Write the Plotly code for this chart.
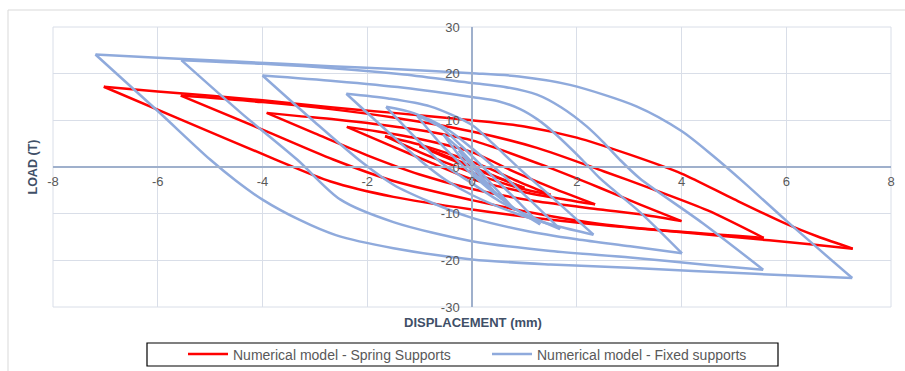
import plotly.graph_objects as go

# ---------------- data ----------------
# Each hysteresis branch is separated by None.
spring_disp = [
    7.27, 6.6, 6.0, 5.0, 4.0, 3.0, 2.0, 1.0, 0, -1.5, -2.7, -4.0, -6.0, -7.03, None,
    -7.03, -5.5, -3.75, -2.7, -1.5, 0, 1.5, 3.02, 5.0, 6.5, 7.27, None,
    5.57, 4.5, 3.46, 2.51, 1.24, 0, -1.5, -2.7, -4.0, -5.56, None,
    -5.56, -4.0, -2.65, -1.5, 0, 1.2, 2.45, 4.0, 5.57, None,
    4.0, 3.2, 2.45, 1.3, 0, -1.3, -2.6, -3.3, -3.92, None,
    -3.92, -3.0, -2.0, -1.0, 0, 1.2, 2.45, 3.3, 4.0, None,
    2.35, 1.6, 0.8, 0, -1.0, -1.8, -2.39, None,
    -2.39, -1.6, -0.8, 0, 1.0, 1.8, 2.35, None,
    1.5, 0.9, 0.3, -0.3, -1.0, -1.66, None,
    -1.66, -1.0, -0.4, 0.2, 0.9, 1.5, None,
    1.0, 0.4, -0.3, -1.0, None,
    -1.0, -0.4, 0.3, 1.0,
]
spring_load = [
    -17.5, -14.9, -12.2, -6.9, -1.4, 2.7, 6.3, 8.7, 10.0, 11.6, 12.8, 14.3, 16.2, 17.2, None,
    17.2, 9.9, 1.6, -3.1, -6.4, -9.1, -11.3, -13.0, -15.0, -16.6, -17.5, None,
    -15.2, -9.3, -4.8, -0.9, 4.1, 7.6, 10.6, 12.4, 13.9, 15.3, None,
    15.3, 8.0, 1.6, -3.0, -7.1, -9.9, -12.2, -13.9, -15.2, None,
    -11.6, -8.0, -4.5, 0.6, 5.7, 8.4, 10.2, 10.9, 11.6, None,
    11.6, 7.2, 2.5, -1.6, -4.7, -7.3, -9.1, -10.3, -11.6, None,
    -8.0, -4.8, -1.0, 3.2, 6.0, 7.6, 8.6, None,
    8.6, 4.8, 1.0, -2.6, -5.4, -7.0, -8.0, None,
    -6.0, -3.2, -0.2, 2.3, 4.8, 6.6, None,
    6.6, 3.2, 0.5, -2.0, -4.5, -6.0, None,
    -4.5, -1.8, 1.5, 4.5, None,
    4.5, 1.6, -1.5, -4.5,
]

fixed_disp = [
    7.26, 6.0, 5.2, 4.6, 4.0, 3.14, 1.87, 0.9, 0, -1.5, -2.7, -4.5, -6.0, -7.19, None,
    -7.19, -6.0, -5.0, -4.5, -4.0, -3.3, -2.6, -1.5, 0, 1.5, 3.0, 5.4, 7.26, None,
    5.56, 4.4, 3.2, 2.82, 2.5, 2.19, 1.7, 1.24, 0.6, 0, -1.3, -2.6, -4.0, -5.55, None,
    -5.55, -4.4, -3.34, -2.51, -1.5, 0, 1.5, 3.02, 4.5, 5.56, None,
    4.01, 3.2, 2.45, 2.1, 1.55, 1.25, 0.92, 0.5, 0, -1.3, -2.6, -4.0, None,
    -4.0, -3.0, -2.1, -1.5, -0.8, 0, 1.0, 2.0, 3.02, 4.01, None,
    2.32, 1.6, 0.92, 0.4, 0, -0.8, -1.6, -2.40, None,
    -2.40, -1.6, -1.0, -0.5, 0, 0.8, 1.6, 2.32, None,
    1.68, 1.1, 0.5, 0, -0.5, -1.1, -1.64, None,
    -1.64, -1.1, -0.6, 0, 0.6, 1.2, 1.68, None,
    1.3, 0.8, 0.3, -0.2, -0.6, -1.05, None,
    -1.05, -0.6, -0.2, 0.3, 0.8, 1.3, None,
    0.8, 0.4, 0, -0.3, -0.55, None,
    -0.55, -0.25, 0.1, 0.45, 0.8, None,
    0.4, 0.1, -0.25, None,
    -0.25, 0.05, 0.4,
]
fixed_load = [
    -23.8, -11.5, -3.4, 2.4, 7.7, 13.0, 17.6, 19.4, 20.1, 21.0, 21.6, 22.6, 23.4, 24.1, None,
    24.1, 12.0, 1.6, -3.0, -7.0, -11.3, -14.6, -17.4, -19.8, -20.9, -21.6, -22.9, -23.8, None,
    -22.0, -12.0, -2.4, 1.6, 5.4, 8.7, 12.8, 15.5, 17.2, 18.0, 19.8, 21.1, 22.1, 22.9, None,
    22.9, 11.5, 1.6, -7.0, -11.8, -15.9, -18.0, -19.4, -21.0, -22.0, None,
    -18.5, -9.6, -2.5, 1.6, 7.5, 10.2, 12.4, 14.1, 15.0, 17.0, 18.4, 19.6, None,
    19.6, 9.6, 1.0, -3.8, -7.5, -10.9, -13.6, -15.5, -17.0, -18.5, None,
    -14.5, -7.2, -0.5, 5.0, 9.0, 13.0, 14.7, 15.7, None,
    15.7, 7.5, 1.5, -2.8, -6.0, -9.8, -12.6, -14.5, None,
    -13.3, -7.0, -0.8, 4.0, 8.3, 11.5, 12.9, None,
    12.9, 6.5, 1.0, -3.5, -7.8, -11.0, -13.3, None,
    -12.3, -6.5, -1.0, 4.5, 8.5, 11.0, None,
    11.0, 5.0, 0.5, -4.5, -8.8, -12.3, None,
    -9.0, -4.0, 1.0, 4.5, 7.0, None,
    7.0, 2.5, -2.0, -5.5, -9.0, None,
    -5.0, -1.0, 3.5, None,
    3.5, -0.5, -5.0,
]

x_ticks = [-8, -6, -4, -2, 0, 2, 4, 6, 8]
y_ticks = [-30, -20, -10, 0, 10, 20, 30]
series_names = ["Numerical model - Spring Supports", "Numerical model - Fixed supports"]

# ---------------- figure ----------------
W, H = 905, 371
ML, MR, MT, MB = 53, 14, 27, 64
PW, PH = W - ML - MR, H - MT - MB


def px2paper(px, py):
    return (px - ML) / PW, (H - MB - py) / PH


FONT = "Liberation Sans, Arial, sans-serif"
GRID = "#d9dee8"
AXIS = "#9fb0cc"
TICK = "#595959"

fig = go.Figure()
fig.add_trace(go.Scatter(
    x=spring_disp, y=spring_load, mode="lines", name=series_names[0],
    line=dict(color="#ff0000", width=2.5, shape="spline", smoothing=0.8),
    connectgaps=False,
))
fig.add_trace(go.Scatter(
    x=fixed_disp, y=fixed_load, mode="lines", name=series_names[1],
    line=dict(color="#8faadc", width=2.5, shape="spline", smoothing=0.8),
    connectgaps=False,
))

fig.update_xaxes(
    range=[-8, 8], tickvals=x_ticks, ticktext=[str(v) for v in x_ticks],
    showgrid=True, gridcolor=GRID, gridwidth=1, zeroline=False,
    showline=True, linecolor=AXIS, linewidth=1.5,
    anchor="free", position=0.5, side="bottom",
    ticks="", ticklabelstandoff=3,
    tickfont=dict(family=FONT, size=13, color=TICK),
)
fig.update_yaxes(
    range=[-30, 30], tickvals=y_ticks, ticktext=[str(v) for v in y_ticks],
    showgrid=True, gridcolor=GRID, gridwidth=1, zeroline=False,
    showline=True, linecolor=AXIS, linewidth=1.5,
    anchor="free", position=0.5, side="left",
    ticks="", ticklabelstandoff=9,
    tickfont=dict(family=FONT, size=13, color=TICK),
)

shapes = []
# plot-area frame
shapes.append(dict(type="rect", xref="paper", yref="paper", x0=0, x1=1, y0=0, y1=1,
                   line=dict(color=GRID, width=1), layer="below"))
# outer chart border
bx0, by0 = px2paper(8, 380)
bx1, by1 = px2paper(915, 10)
shapes.append(dict(type="rect", xref="paper", yref="paper", x0=bx0, x1=bx1, y0=by0, y1=by1,
                   line=dict(color="#d9d9d9", width=1)))
# legend box
lx0, ly0 = px2paper(147, 366)
lx1, ly1 = px2paper(778, 343)
shapes.append(dict(type="rect", xref="paper", yref="paper", x0=lx0, x1=lx1, y0=ly0, y1=ly1,
                   line=dict(color="#000000", width=1.2)))

tx, ty = px2paper(473, 322)
yx, yy = px2paper(32, 167.5)
annotations = [
    dict(text="<b>DISPLACEMENT (mm)</b>", xref="paper", yref="paper", x=tx, y=ty,
         showarrow=False, xanchor="center", yanchor="middle",
         font=dict(family=FONT, size=13, color="#404f67")),
    dict(text="<b>LOAD (T)</b>", xref="paper", yref="paper", x=yx, y=yy,
         showarrow=False, xanchor="center", yanchor="middle", textangle=-90,
         font=dict(family=FONT, size=12.5, color="#404f67")),
]

legx, legy = px2paper(183, 354.5)
fig.update_layout(
    width=W, height=H,
    margin=dict(l=ML, r=MR, t=MT, b=MB, autoexpand=False),
    paper_bgcolor="white", plot_bgcolor="white",
    showlegend=True,
    legend=dict(orientation="h", x=legx, y=legy, xanchor="left", yanchor="middle",
                bgcolor="rgba(0,0,0,0)", borderwidth=0,
                entrywidth=249, entrywidthmode="pixels", itemwidth=40,
                font=dict(family=FONT, size=14, color=TICK)),
    shapes=shapes, annotations=annotations,
    font=dict(family=FONT),
)

fig.write_html(
    "out.html",
    config={"displayModeBar": False},
    post_script="document.body.style.margin='0px';document.body.style.overflow='hidden';",
)
